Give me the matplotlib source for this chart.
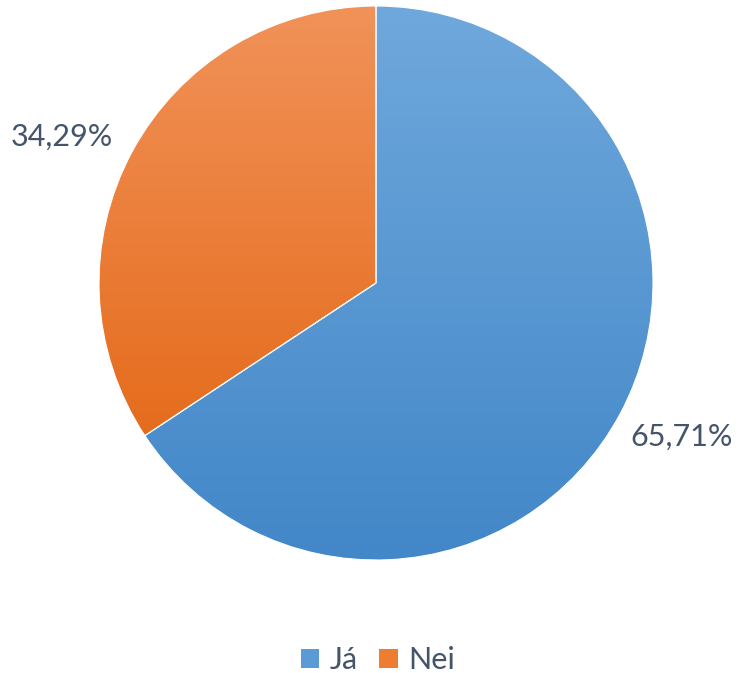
import matplotlib.pyplot as plt
import numpy as np
from matplotlib.colors import LinearSegmentedColormap
from matplotlib.patches import Patch

plt.rcParams['font.family'] = ['Lato', 'DejaVu Sans']

labels = ['Já', 'Nei']
values = [65.71, 34.29]
top_colors = ['#6FA8DC', '#F19259']
bottom_colors = ['#4287C8', '#E56C1D']
text_color = '#44546A'

fig = plt.figure(figsize=(7.41, 6.73), dpi=100)
ax = fig.add_axes([0, 0, 1, 1])

wedges, _, autotexts = ax.pie(
    values, startangle=90, counterclock=False,
    center=(376, 390), radius=277, frame=True,
    autopct=lambda p: f'{p:.2f}%'.replace('.', ','),
    pctdistance=1.24,
    wedgeprops=dict(linewidth=0.8, edgecolor='white'),
    textprops=dict(color=text_color, fontsize=22))
ax.set_xlim(0, 741)
ax.set_ylim(0, 673)
ax.set_aspect('equal')
ax.axis('off')

# label positions as in the original chart
label_pos = [(682, 236), (62, 536)]
for t, p in zip(autotexts, label_pos):
    t.set_position(p)

# vertical gradient fill for every slice
grad = np.linspace(1, 0, 256).reshape(-1, 1)
for w, c_top, c_bot in zip(wedges, top_colors, bottom_colors):
    w.set_facecolor('none')
    bb = w.get_path().get_extents(w.get_patch_transform())
    cmap = LinearSegmentedColormap.from_list('g', [c_bot, c_top])
    im = ax.imshow(grad, cmap=cmap, aspect='auto', origin='upper',
                   extent=[bb.x0, bb.x1, bb.y0, bb.y1], zorder=0.5)
    im.set_clip_path(w)

handles = [Patch(facecolor=c, edgecolor='none') for c in ['#5B9BD5', '#ED7D31']]
leg = ax.legend(handles, labels, loc='center', bbox_to_anchor=(0.51, 13 / 673),
                ncol=2, frameon=False, fontsize=22, handlelength=0.6,
                handleheight=0.6, handletextpad=0.35, columnspacing=0.7,
                borderpad=0, borderaxespad=0)
for t in leg.get_texts():
    t.set_color(text_color)

fig.savefig('out.png', dpi=100)
